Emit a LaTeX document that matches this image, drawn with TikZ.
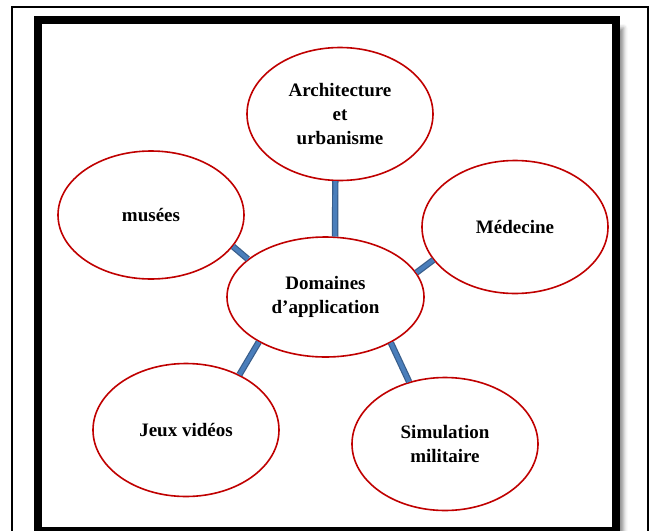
\documentclass[tikz,border=0pt]{standalone}
\usepackage{fontspec}
\setmainfont{Liberation Serif}
\usepackage{xcolor}
\usepackage{tikz}
\usetikzlibrary{shapes.geometric, positioning, shadows.blur}

\definecolor{bubblered}{RGB}{192,0,0}
\definecolor{linkblue}{RGB}{74,126,187}
\definecolor{linkdark}{RGB}{56,93,138}

\begin{document}
\begin{tikzpicture}[x=1pt, y=-1pt, on grid,
    bubble/.style={ellipse, draw=bubblered, line width=1.6pt, fill=white, minimum width=186pt, minimum height=133pt, inner sep=0pt, align=center, font=\fontsize{19}{24}\selectfont\bfseries},
    hub/.style={bubble, minimum width=197pt, minimum height=120pt},
    link/.style={draw=linkdark, line width=1.2pt, double=linkblue, double distance=4pt}
]
    \clip (0,0) rectangle (649,531);
    \draw [line width=2pt] (12,6.5) rectangle (647.5,560);
    \draw [line width=8pt, fill=white, blur shadow={shadow xshift=8pt, shadow yshift=-8pt, shadow blur radius=4pt, shadow opacity=45}] (38,20) rectangle (615.5,531);

    \node [hub] (dom) at (325.5,297) {Domaines\\d’application};
    \node [bubble, above right=183pt and 14.5pt of dom] (arch) {Architecture\\et\\urbanisme};
    \node [bubble, above left=82pt and 174.5pt of dom, minimum height=128pt] (mus) {musées};
    \node [bubble, above right=70pt and 189.5pt of dom] (med) {Médecine};
    \node [bubble, below left=133pt and 139.5pt of dom] (jeux) {Jeux vidéos};
    \node [bubble, below right=147pt and 119.5pt of dom] (sim) {Simulation\\militaire};

    \path [link] (dom.81) -- (arch.266);
    \path [link] (dom.154) -- (mus.-21);
    \path [link] (dom.15) -- (med.202);
    \path [link] (dom.214) -- (jeux.46);
    \path [link] (dom.325) -- (sim.120);
\end{tikzpicture}
\end{document}
